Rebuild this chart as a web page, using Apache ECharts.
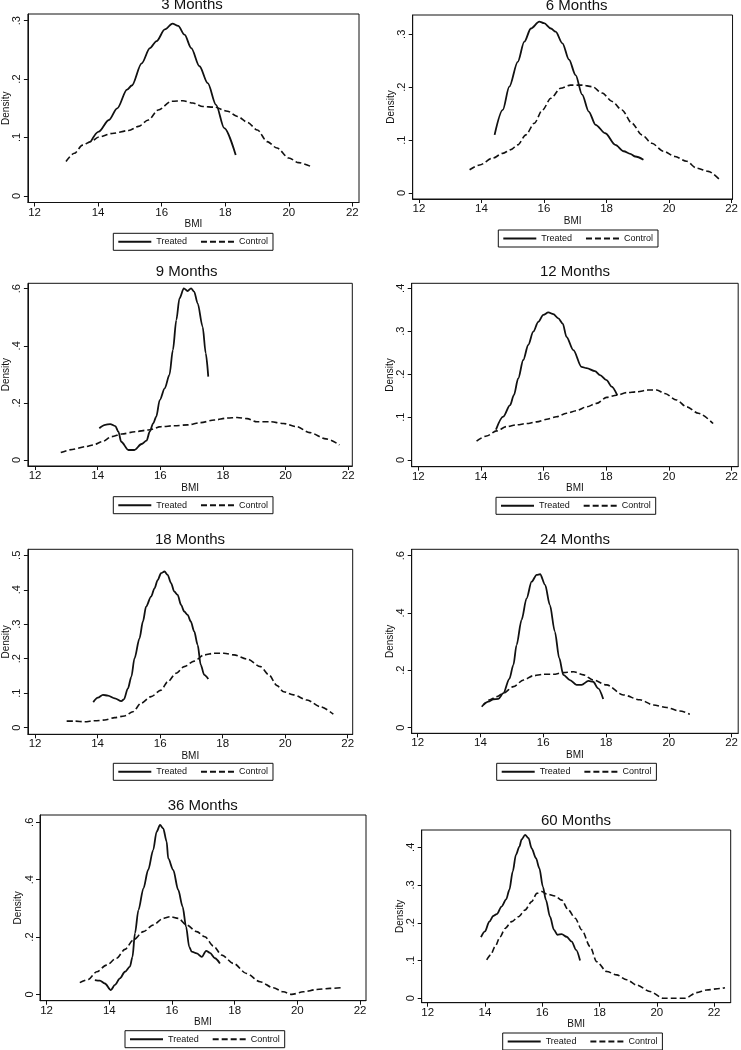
<!DOCTYPE html>
<html>
<head>
<meta charset="utf-8">
<script src="https://cdn.jsdelivr.net/npm/echarts@6/dist/echarts.min.js"></script>
<style>
html,body{margin:0;padding:0;background:#fff;}
#chart{width:741px;height:1050px;}
</style>
</head>
<body>
<div id="chart"></div>
<script>
// ---------- DATA ----------
const panelTitles = ['3 Months','6 Months','9 Months','12 Months','18 Months','24 Months','36 Months','60 Months'];
const seriesNames = ['Treated','Control'];
const xTicks = [12,14,16,18,20,22];
const yTicks3 = [0,0.1,0.2,0.3];
const yTicks4 = [0,0.1,0.2,0.3,0.4];
const yTicks5 = [0,0.1,0.2,0.3,0.4,0.5];
const yTicks6 = [0,0.2,0.4,0.6];

const treated3 = [[13.77,0.093],[14.02,0.110],[14.34,0.130],[14.6,0.150],[14.91,0.182],[15.06,0.189],[15.37,0.227],[15.63,0.253],[15.84,0.265],[16.1,0.285],[16.34,0.295],[16.52,0.291],[16.72,0.276],[16.93,0.253],[17.19,0.222],[17.45,0.193],[17.71,0.156],[17.97,0.116],[18.33,0.070]];
const control3 = [[12.99,0.059],[13.25,0.073],[13.51,0.087],[13.77,0.093],[14.02,0.101],[14.44,0.107],[14.96,0.112],[15.27,0.119],[15.58,0.130],[15.89,0.147],[16.31,0.162],[16.67,0.163],[16.98,0.159],[17.3,0.153],[17.66,0.152],[18.07,0.145],[18.39,0.136],[18.7,0.126],[19.01,0.113],[19.32,0.093],[19.63,0.082],[20.0,0.065],[20.31,0.057],[20.67,0.051]];

const treated6 = [[14.42,0.110],[14.68,0.157],[14.89,0.201],[15.16,0.248],[15.37,0.286],[15.58,0.311],[15.85,0.324],[16.0,0.321],[16.22,0.311],[16.37,0.305],[16.59,0.283],[16.8,0.252],[17.01,0.223],[17.22,0.186],[17.43,0.154],[17.65,0.129],[17.96,0.113],[18.28,0.091],[18.55,0.079],[18.76,0.074],[18.92,0.069],[19.18,0.063]];
const control6 = [[13.62,0.044],[13.94,0.053],[14.36,0.066],[14.68,0.075],[14.94,0.082],[15.16,0.091],[15.42,0.110],[15.69,0.132],[15.95,0.157],[16.22,0.179],[16.53,0.198],[16.85,0.204],[17.22,0.204],[17.54,0.201],[17.86,0.189],[18.18,0.173],[18.49,0.157],[18.81,0.132],[19.13,0.110],[19.45,0.094],[19.82,0.079],[20.19,0.069],[20.56,0.060],[20.88,0.047],[21.25,0.041],[21.62,0.025]];

const treated9 = [[14.05,0.111],[14.24,0.123],[14.4,0.126],[14.56,0.119],[14.66,0.099],[14.75,0.064],[14.98,0.035],[15.17,0.035],[15.4,0.056],[15.56,0.068],[15.66,0.099],[15.77,0.128],[15.87,0.152],[15.98,0.210],[16.14,0.251],[16.29,0.298],[16.4,0.385],[16.51,0.490],[16.61,0.566],[16.75,0.601],[16.87,0.592],[16.98,0.601],[17.08,0.590],[17.19,0.549],[17.35,0.467],[17.45,0.374],[17.53,0.292]];
const control9 = [[12.82,0.026],[13.19,0.037],[13.61,0.047],[13.87,0.053],[14.14,0.064],[14.45,0.082],[14.77,0.091],[15.19,0.099],[15.61,0.105],[16.03,0.117],[16.45,0.120],[16.87,0.123],[17.29,0.131],[17.72,0.140],[18.14,0.147],[18.45,0.149],[18.77,0.145],[19.08,0.134],[19.51,0.134],[19.93,0.128],[20.35,0.117],[20.77,0.096],[21.29,0.074],[21.72,0.053]];

const treated12 = [[14.48,0.071],[14.71,0.101],[14.93,0.128],[15.05,0.151],[15.19,0.190],[15.35,0.233],[15.51,0.268],[15.67,0.299],[15.83,0.322],[15.99,0.338],[16.15,0.344],[16.31,0.340],[16.47,0.330],[16.61,0.318],[16.73,0.287],[16.95,0.256],[17.21,0.217],[17.37,0.214],[17.64,0.207],[17.8,0.198],[18.01,0.186],[18.17,0.171],[18.35,0.151]];
const control12 = [[13.86,0.044],[14.18,0.056],[14.5,0.068],[14.82,0.078],[15.14,0.082],[15.46,0.085],[15.78,0.089],[16.1,0.095],[16.41,0.101],[16.73,0.109],[17.05,0.115],[17.37,0.124],[17.69,0.132],[18.01,0.146],[18.33,0.151],[18.65,0.157],[18.97,0.159],[19.34,0.163],[19.61,0.163],[19.87,0.155],[20.24,0.140],[20.56,0.124],[20.94,0.109],[21.41,0.085]];

const treated18 = [[13.86,0.074],[14.01,0.087],[14.17,0.095],[14.33,0.093],[14.55,0.085],[14.76,0.077],[14.84,0.082],[14.97,0.114],[15.08,0.148],[15.18,0.201],[15.34,0.259],[15.45,0.308],[15.55,0.351],[15.71,0.380],[15.82,0.404],[15.92,0.428],[16.03,0.448],[16.14,0.453],[16.24,0.443],[16.35,0.419],[16.45,0.395],[16.56,0.385],[16.67,0.356],[16.77,0.337],[16.88,0.327],[16.98,0.308],[17.09,0.279],[17.2,0.240],[17.3,0.182],[17.41,0.153],[17.54,0.141]];
const control18 = [[13.01,0.019],[13.27,0.019],[13.59,0.017],[13.91,0.020],[14.23,0.022],[14.55,0.029],[14.86,0.034],[15.13,0.046],[15.39,0.071],[15.71,0.090],[16.03,0.109],[16.24,0.133],[16.51,0.158],[16.77,0.177],[17.09,0.193],[17.41,0.211],[17.73,0.216],[18.04,0.216],[18.36,0.211],[18.79,0.199],[19.21,0.177],[19.48,0.153],[19.74,0.122],[19.95,0.104],[20.27,0.095],[20.7,0.080],[21.12,0.061],[21.54,0.039]];

const treated24 = [[14.09,0.079],[14.25,0.091],[14.41,0.099],[14.57,0.100],[14.73,0.120],[14.92,0.170],[15.05,0.219],[15.15,0.288],[15.31,0.376],[15.47,0.451],[15.63,0.509],[15.79,0.533],[15.9,0.535],[16.06,0.498],[16.21,0.428],[16.37,0.335],[16.51,0.242],[16.64,0.184],[16.85,0.166],[17.06,0.149],[17.22,0.149],[17.44,0.163],[17.59,0.160],[17.75,0.137],[17.91,0.100]];
const control24 = [[14.04,0.073],[14.3,0.097],[14.52,0.108],[14.73,0.120],[15.05,0.143],[15.37,0.166],[15.68,0.181],[16.0,0.186],[16.32,0.186],[16.64,0.192],[16.96,0.195],[17.28,0.184],[17.59,0.166],[18.02,0.149],[18.55,0.114],[19.08,0.097],[19.51,0.079],[19.93,0.070],[20.35,0.058],[20.67,0.047]];

const treated36 = [[13.54,0.050],[13.7,0.048],[13.86,0.038],[14.05,0.015],[14.18,0.033],[14.34,0.056],[14.5,0.079],[14.66,0.097],[14.74,0.131],[14.82,0.213],[14.93,0.294],[15.09,0.370],[15.24,0.434],[15.4,0.503],[15.51,0.567],[15.62,0.591],[15.72,0.579],[15.83,0.533],[15.88,0.474],[16.04,0.434],[16.2,0.364],[16.34,0.306],[16.45,0.236],[16.55,0.166],[16.63,0.149],[16.79,0.143],[16.95,0.131],[17.09,0.152],[17.21,0.145],[17.37,0.126],[17.53,0.108]];
const control36 = [[13.06,0.041],[13.33,0.052],[13.6,0.079],[13.91,0.102],[14.23,0.126],[14.5,0.157],[14.77,0.190],[15.09,0.219],[15.4,0.242],[15.72,0.265],[15.94,0.271],[16.2,0.265],[16.47,0.242],[16.79,0.219],[17.05,0.201],[17.32,0.169],[17.59,0.137],[17.96,0.108],[18.38,0.073],[18.81,0.044],[19.23,0.023],[19.55,0.009],[19.82,0.000],[20.19,0.009],[20.62,0.017],[21.04,0.021],[21.47,0.024]];

const treated60 = [[13.86,0.162],[14.0,0.177],[14.15,0.203],[14.29,0.218],[14.41,0.223],[14.58,0.243],[14.74,0.262],[14.85,0.287],[14.97,0.336],[15.08,0.380],[15.2,0.402],[15.28,0.421],[15.4,0.433],[15.52,0.424],[15.63,0.397],[15.78,0.371],[15.9,0.344],[16.02,0.296],[16.13,0.260],[16.27,0.216],[16.41,0.181],[16.53,0.168],[16.68,0.170],[16.85,0.163],[17.03,0.150],[17.18,0.128],[17.32,0.100]];
const control60 = [[14.06,0.102],[14.2,0.115],[14.35,0.137],[14.53,0.163],[14.7,0.185],[14.93,0.203],[15.17,0.216],[15.4,0.234],[15.63,0.256],[15.81,0.278],[15.98,0.283],[16.16,0.276],[16.45,0.271],[16.68,0.260],[16.91,0.234],[17.15,0.212],[17.38,0.181],[17.67,0.137],[17.9,0.097],[18.25,0.071],[18.6,0.062],[18.95,0.049],[19.3,0.035],[19.76,0.018],[20.23,0.000],[20.58,0.000],[20.99,0.000],[21.39,0.015],[21.74,0.022],[22.21,0.026],[22.38,0.028]];

const treatedAll = [treated3,treated6,treated9,treated12,treated18,treated24,treated36,treated60];
const controlAll = [control3,control6,control9,control12,control18,control24,control36,control60];
const yTickSets = [yTicks3,yTicks3,yTicks6,yTicks4,yTicks5,yTicks6,yTicks6,yTicks4];

// ---------- LAYOUT ----------
const layout = [
  {g:[25,14,334,188.5],     x:[11.79,22.21], y:[-0.0112,0.3114], t:[192,4.5],   l:[113.3,233.3]},
  {g:[412.7,15,320.3,184],x:[11.80,22.03], y:[-0.0113,0.3365], t:[576.7,6],   l:[498.3,230]},
  {g:[25,283.3,327.3,182.7],x:[11.77,22.13],y:[-0.021,0.619],  t:[186.7,272.3],l:[113.3,496.7]},
  {g:[411.7,283.3,326.6,183.4],x:[11.79,22.21],y:[-0.0155,0.4117],t:[575,272.3],l:[496,497.3]},
  {g:[26,549.3,326.7,185],x:[11.77,22.16], y:[-0.0193,0.5174], t:[190,540],   l:[113.3,763.3]},
  {g:[411.7,549.3,326.6,184],x:[11.81,22.21],y:[-0.0198,0.622],t:[575,540],   l:[496.7,763.3]},
  {g:[40,815,326,185.7],  x:[11.79,22.19], y:[-0.022,0.6256],  t:[202.7,806], l:[125,1030.7]},
  {g:[421.7,830,309,172.7], x:[11.79,22.58], y:[-0.0117,0.4458], t:[576,821],   l:[502.7,1033]}
];

const FONT = 'Liberation Sans, Arial, sans-serif';
const INK = '#111';
const yFmt = v => (v === 0 ? '0' : String(+v.toFixed(2)).replace(/^0/, ''));

const grids = [], xAxes = [], yAxes = [], series = [], legends = [], graphics = [];
layout.forEach((p, i) => {
  grids.push({left:p.g[0], top:p.g[1], width:p.g[2], height:p.g[3], show:true, borderColor:INK, borderWidth:1, backgroundColor:'#fff'});
  xAxes.push({
    type:'value', gridIndex:i, min:p.x[0], max:p.x[1],
    name:'BMI', nameLocation:'middle', nameGap:14,
    nameTextStyle:{fontFamily:FONT, fontSize:10, color:INK},
    axisLine:{show:true, onZero:false, lineStyle:{color:INK, width:1}},
    axisTick:{show:true, inside:false, length:4, lineStyle:{color:INK}, customValues:xTicks},
    axisLabel:{show:true, margin:4, fontFamily:FONT, fontSize:11.5, color:INK, customValues:xTicks, formatter:v=>String(v)},
    splitLine:{show:false}
  });
  yAxes.push({
    type:'value', gridIndex:i, min:p.y[0], max:p.y[1],
    name:'Density', nameLocation:'middle', nameGap:16,
    nameTextStyle:{fontFamily:FONT, fontSize:10, color:INK},
    axisLine:{show:true, onZero:false, lineStyle:{color:INK, width:1}},
    axisTick:{show:true, inside:false, length:4, lineStyle:{color:INK}, customValues:yTickSets[i]},
    axisLabel:{show:true, margin:5, rotate:90, fontFamily:FONT, fontSize:11, color:INK, customValues:yTickSets[i], formatter:yFmt},
    splitLine:{show:false}
  });
  series.push({
    name:seriesNames[0], type:'line', xAxisIndex:i, yAxisIndex:i, data:treatedAll[i],
    symbol:'none', showSymbol:false, smooth:0.3, smoothMonotone:'x',
    lineStyle:{color:INK, width:1.8, type:'solid'}, itemStyle:{color:INK}, silent:true, animation:false
  });
  series.push({
    name:seriesNames[1], type:'line', xAxisIndex:i, yAxisIndex:i, data:controlAll[i],
    symbol:'none', showSymbol:false, smooth:0.3, smoothMonotone:'x',
    lineStyle:{color:INK, width:1.6, type:[6,3]}, itemStyle:{color:INK}, silent:true, animation:false
  });
  legends.push({
    left:p.l[0], top:p.l[1], orient:'horizontal', data:seriesNames,
    itemWidth:33, itemHeight:10, itemGap:13, padding:[4,5,4,4],
    borderColor:INK, borderWidth:1, backgroundColor:'#fff',
    itemStyle:{opacity:0, borderWidth:0},
    lineStyle:{color:INK},
    textStyle:{fontFamily:FONT, fontSize:9, color:INK},
    selectedMode:false
  });
  graphics.push({
    type:'text', x:p.t[0], y:p.t[1], silent:true,
    style:{text:panelTitles[i], font:'15px ' + FONT, fill:INK, align:'center', verticalAlign:'middle'}
  });
});

const chart = echarts.init(document.getElementById('chart'), null, {renderer:'canvas'});
chart.setOption({
  backgroundColor:'#fff',
  animation:false,
  grid:grids, xAxis:xAxes, yAxis:yAxes, series:series, legend:legends,
  graphic:graphics
});
</script>
</body>
</html>
